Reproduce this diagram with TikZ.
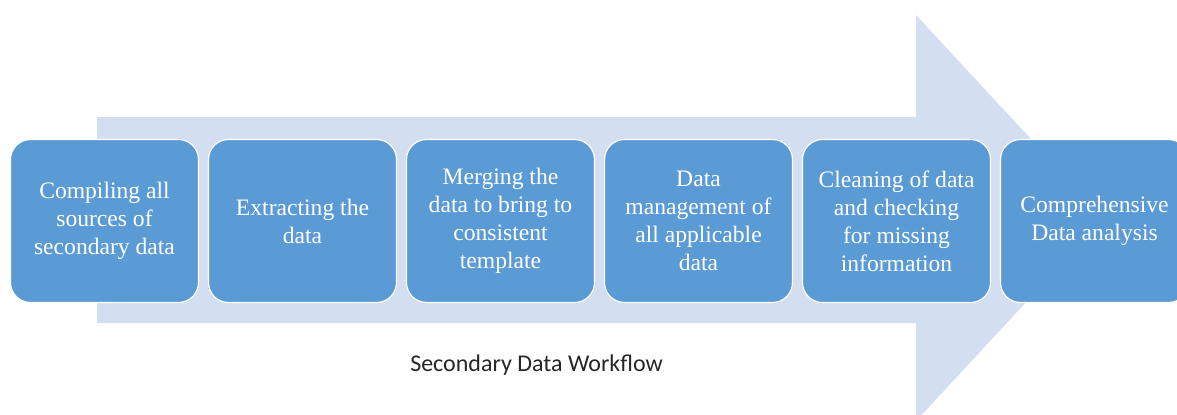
\documentclass[tikz,border=0pt]{standalone}
\usepackage{fontspec}
\setmainfont{Liberation Serif}
\newfontfamily\captionfont{Carlito}
\usetikzlibrary{positioning}
\definecolor{arrowblue}{HTML}{D3DEF0}
\definecolor{boxblue}{HTML}{5B9BD5}
\tikzset{
    stepbox/.style={draw=white, line width=0.6pt, fill=boxblue, rounded corners=10pt,
        minimum width=94pt, minimum height=81.5pt, inner sep=2pt, align=center,
        text=white, font=\fontsize{11.8}{14}\selectfont},
    flowlabel/.style={anchor=base, text=black!85, font=\captionfont\fontsize{12}{14.4}\selectfont},
}
\begin{document}
\begin{tikzpicture}[x=0.5pt,y=-0.5pt]
    \useasboundingbox (0,0) rectangle (1177,414);
    %draw background arrow
    \fill[arrowblue] (97,117) -- (916,117) -- (916,15) -- (1104,218)
        -- (916,421) -- (916,323) -- (97,323) -- cycle;
    %draw steps
    \node[stepbox] (compile) at (104.5,221) {Compiling all\\sources of\\secondary data};
    \node[stepbox, right=4.4pt of compile] (extract) {Extracting the\\data};
    \node[stepbox, right=4.4pt of extract] (merge) {Merging the\\data to bring to\\consistent\\template};
    \node[stepbox, right=4.4pt of merge] (manage) {Data\\management of\\all applicable\\data};
    \node[stepbox, right=4.4pt of manage] (clean) {Cleaning of data\\and checking\\for missing\\information};
    \node[stepbox, right=4.4pt of clean] (analyse) {Comprehensive\\Data analysis};
    %draw caption
    \node[flowlabel] (caption) at (536.5,371) {Secondary Data Workflow};
\end{tikzpicture}
\end{document}
